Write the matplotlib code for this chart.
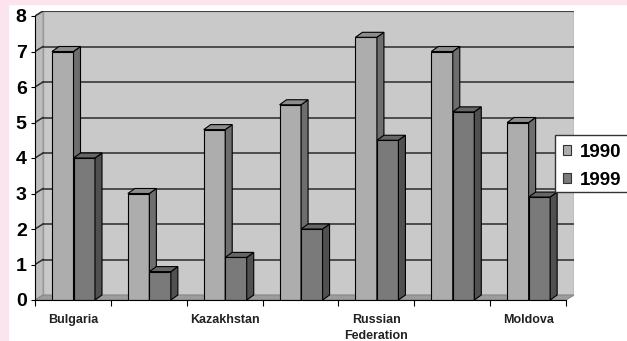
import matplotlib
matplotlib.use("Agg")
import matplotlib.pyplot as plt
from matplotlib.patches import Polygon, Rectangle, Patch

# data
countries = ["Bulgaria", "", "Kazakhstan", "", "Russian\nFederation", "", "Moldova"]
years = ["1990", "1999"]
values_1990 = [7.0, 3.0, 4.8, 5.5, 7.4, 7.0, 5.0]
values_1999 = [4.0, 0.8, 1.2, 2.0, 4.5, 5.3, 2.9]
yticks = [0, 1, 2, 3, 4, 5, 6, 7, 8]

plt.rcParams["font.family"] = ["Liberation Sans", "DejaVu Sans"]

W, H = 627, 341
fig = plt.figure(figsize=(W / 100, H / 100), dpi=100)
fig.patch.set_facecolor("white")

# pink page strips
fig.patches.append(Rectangle((0, 0), 8 / W, 1, transform=fig.transFigure,
                             color="#fbe4ee", zorder=0))
fig.patches.append(Rectangle((0, 1 - 4 / H), 1, 4 / H, transform=fig.transFigure,
                             color="#fbe4ee", zorder=0))

n = len(countries)
ymax = 8
xs = 531 / n          # pixels per category
ys = 284 / ymax       # pixels per unit
wdx, wdy = 8 / xs, 5 / ys   # wall depth in data units
bdx, bdy = 7 / xs, 5 / ys   # bar depth in data units

left_px, bottom_px = 35, 300
ax = fig.add_axes([left_px / W, 1 - bottom_px / H,
                   (531 + 8) / W, (284 + 5) / H])
ax.set_xlim(0, n + wdx)
ax.set_ylim(0, ymax + wdy)
ax.patch.set_visible(False)

# walls and floor
ax.add_patch(Rectangle((wdx, wdy), n, ymax, facecolor="#c9c9c9",
                       edgecolor="#9a9a9a", lw=1, zorder=1))
ax.add_patch(Polygon([(0, 0), (wdx, wdy), (wdx, ymax + wdy), (0, ymax)],
                     facecolor="#bdbdbd", edgecolor="#9a9a9a", lw=0.8, zorder=1))
ax.add_patch(Polygon([(0, 0), (n, 0), (n + wdx, wdy), (wdx, wdy)],
                     facecolor="#9c9c9c", edgecolor="#8a8a8a", lw=0.8, zorder=1))

# gridlines
for v in yticks[1:]:
    ax.plot([wdx, n + wdx], [v + wdy, v + wdy], color="#2b2b2b", lw=1.1, zorder=2)
    ax.plot([0, wdx], [v, v + wdy], color="#2b2b2b", lw=1.1, zorder=2)

# 3d bars
bw = 21.5 / xs
off = 17 / xs
styles = {
    "1990": ("#adadad", "#8d8d8d", "#6e6e6e"),
    "1999": ("#7a7a7a", "#666666", "#505050"),
}
z = 3
for i in range(n):
    for j, (yr, vals) in enumerate(zip(years, [values_1990, values_1999])):
        front, top, side = styles[yr]
        x0 = i + off + j * bw
        v = vals[i]
        ax.bar(x0, v, width=bw, align="edge", color=front, edgecolor="black",
               lw=0.8, zorder=z)
        ax.add_patch(Polygon([(x0 + bw, 0), (x0 + bw + bdx, bdy),
                              (x0 + bw + bdx, v + bdy), (x0 + bw, v)],
                             facecolor=side, edgecolor="black", lw=0.8, zorder=z))
        ax.add_patch(Polygon([(x0, v), (x0 + bdx, v + bdy),
                              (x0 + bw + bdx, v + bdy), (x0 + bw, v)],
                             facecolor=top, edgecolor="black", lw=0.8, zorder=z))
        z += 1

# axes
for s in ["top", "right"]:
    ax.spines[s].set_visible(False)
ax.spines["left"].set_bounds(0, ymax)
ax.spines["bottom"].set_bounds(0, n)
ax.spines["left"].set_zorder(50)
ax.spines["bottom"].set_zorder(50)
ax.set_yticks(yticks)
ax.set_yticklabels([str(t) for t in yticks], fontsize=14, fontweight="bold")
ax.tick_params(axis="y", length=3, width=0.8, pad=3)
ax.set_xticks(range(n + 1))
ax.set_xticklabels([])
ax.tick_params(axis="x", which="major", length=4, width=0.8)
ax.set_xticks([i + 0.5 for i in range(n)], minor=True)
ax.set_xticklabels(countries, minor=True, fontsize=9, fontweight="bold",
                   color="#222222", linespacing=1.45)
ax.tick_params(axis="x", which="minor", length=0, pad=10)

# legend box
fig.patches.append(Rectangle((555 / W, 1 - 192 / H), 80 / W, 57 / H,
                             transform=fig.transFigure, facecolor="white",
                             edgecolor="#333333", lw=1, zorder=5))
handles = [Patch(facecolor=styles[y][0], edgecolor="#333333", lw=0.8) for y in years]
leg = fig.legend(handles, years, loc="upper left",
                 bbox_to_anchor=(559 / W, 1 - 140 / H), frameon=False,
                 prop={"weight": "bold", "size": 13.5}, handlelength=0.45,
                 handleheight=0.45, handletextpad=0.45, labelspacing=0.6,
                 borderpad=0.2, borderaxespad=0)
leg.set_zorder(6)

fig.savefig("out.png", dpi=100, facecolor=fig.get_facecolor())
